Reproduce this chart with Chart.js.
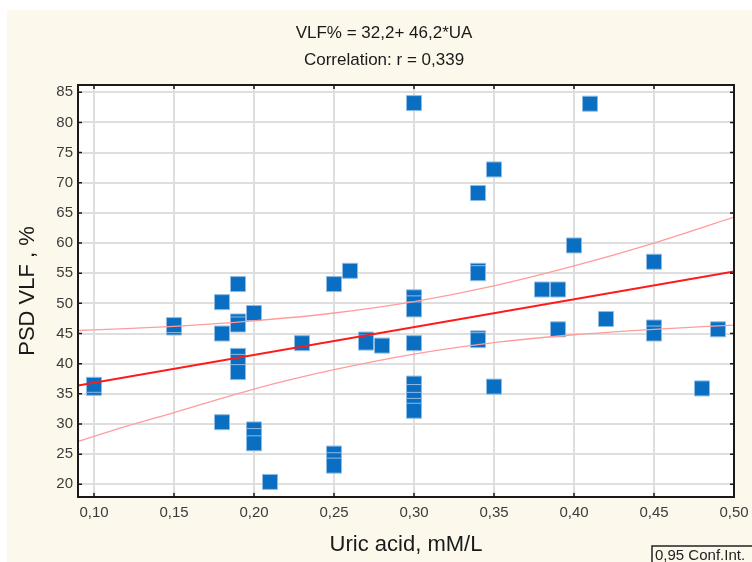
<!DOCTYPE html>
<html>
<head>
<meta charset="utf-8">
<script src="https://cdn.jsdelivr.net/npm/chart.js@4"></script>
<style>
  html, body { margin: 0; padding: 0; background: #ffffff; }
  #wrap { width: 752px; height: 562px; }
</style>
</head>
<body>
<div id="wrap"><canvas id="vlfChart" width="752" height="562"></canvas></div>
<script>
// uric acid (mM/L) vs PSD VLF (%)
const uricAcid = [
    0.10, 0.10,
    0.15, 0.15,
    0.18, 0.18, 0.18,
    0.19, 0.19, 0.19, 0.19, 0.19, 0.19,
    0.20, 0.20, 0.20, 0.20,
    0.21, 0.23,
    0.25, 0.25, 0.25, 0.25,
    0.26, 0.27, 0.27, 0.28,
    0.30, 0.30, 0.30, 0.30, 0.30, 0.30, 0.30, 0.30, 0.30, 0.30,
    0.34, 0.34, 0.34, 0.34, 0.34,
    0.35, 0.35,
    0.38, 0.39, 0.39,
    0.40, 0.41, 0.42,
    0.45, 0.45, 0.45,
    0.48, 0.49
];
const vlfPercent = [
    36.0, 36.5,
    46.0, 46.4,
    50.2, 45.0, 30.3,
    53.2, 47.0, 46.5, 41.3, 40.3, 38.6,
    48.4, 29.1, 28.0, 26.8,
    20.4, 43.4,
    53.2, 25.1, 24.0, 23.1,
    55.4, 44.0, 43.5, 43.0,
    83.2, 51.0, 50.0, 49.0, 43.4, 36.7, 35.3, 34.0, 33.0, 32.2,
    68.3, 55.4, 55.0, 44.2, 43.9,
    72.2, 36.2,
    52.3, 52.3, 45.7,
    59.6, 83.1, 47.4,
    56.9, 46.0, 45.0,
    35.9, 45.7
];

// fitted line VLF% = 32,2 + 46,2*UA, read at the plot edges
const fitX = [0.09, 0.50];
const fitY = [36.4, 55.3];

// 0,95 confidence band
const bandX = [0.09, 0.12, 0.15, 0.20, 0.25, 0.30, 0.35, 0.40, 0.45, 0.50];
const bandUpper = [45.5, 45.8, 46.2, 47.1, 48.4, 50.3, 52.9, 56.2, 60.0, 64.3];
const bandLower = [27.1, 29.6, 31.9, 35.8, 39.0, 41.6, 43.5, 44.8, 45.7, 46.4];

const xTicks = [0.10, 0.15, 0.20, 0.25, 0.30, 0.35, 0.40, 0.45, 0.50];
const yTicks = [20, 25, 30, 35, 40, 45, 50, 55, 60, 65, 70, 75, 80, 85];

const titleLines = ["VLF% = 32,2+ 46,2*UA", "Correlation: r = 0,339"];
const legendText = "0,95 Conf.Int.";

const FONT = "'Liberation Sans', Arial, sans-serif";
const toPoints = (xs, ys) => xs.map((x, i) => ({ x: x, y: ys[i] }));

const frame = {
    id: "frame",
    beforeDraw(chart) {
        const { ctx, chartArea: a } = chart;
        ctx.save();
        ctx.fillStyle = "#ffffff";
        ctx.fillRect(0, 0, chart.width, chart.height);
        ctx.fillStyle = "#fdf8ec";
        ctx.fillRect(7, 10, chart.width - 7, chart.height - 10);
        ctx.fillStyle = "#ffffff";
        ctx.fillRect(a.left, a.top, a.right - a.left, a.bottom - a.top);
        // two-line heading
        ctx.fillStyle = "#1a1a1a";
        ctx.font = "17px " + FONT;
        ctx.textAlign = "center";
        ctx.textBaseline = "middle";
        ctx.fillText(titleLines[0], 384, 33);
        ctx.fillText(titleLines[1], 384, 60);
        ctx.restore();
    },
    afterDraw(chart) {
        const { ctx, chartArea: a } = chart;
        const xs = chart.scales.x, ys = chart.scales.y;
        ctx.save();
        ctx.strokeStyle = "#1a1a1a";
        ctx.lineWidth = 2;
        ctx.strokeRect(a.left, a.top, a.right - a.left, a.bottom - a.top);
        // small inward ticks on the frame
        ctx.lineWidth = 1.5;
        ctx.beginPath();
        xTicks.forEach(v => {
            const px = xs.getPixelForValue(v);
            ctx.moveTo(px, a.top); ctx.lineTo(px, a.top + 4);
            ctx.moveTo(px, a.bottom); ctx.lineTo(px, a.bottom - 4);
        });
        yTicks.forEach(v => {
            const py = ys.getPixelForValue(v);
            ctx.moveTo(a.left, py); ctx.lineTo(a.left + 4, py);
            ctx.moveTo(a.right, py); ctx.lineTo(a.right - 4, py);
        });
        ctx.stroke();
        // legend box, bottom right
        ctx.lineWidth = 1.5;
        ctx.strokeStyle = "#222";
        ctx.strokeRect(652, 546, 110, 20);
        ctx.fillStyle = "#222";
        ctx.font = "15px " + FONT;
        ctx.textBaseline = "middle";
        ctx.fillText(legendText, 655, 556);
        ctx.restore();
    }
};

const ctx = document.getElementById("vlfChart").getContext("2d");
window.vlfChart = new Chart(ctx, {
    data: {
        datasets: [
            {
                type: "line",
                data: toPoints(fitX, fitY),
                borderColor: "#ff1a1a",
                borderWidth: 2,
                pointRadius: 0,
                order: 0
            },
            {
                type: "line",
                data: toPoints(bandX, bandUpper),
                borderColor: "#ff9c9c",
                borderWidth: 1.3,
                pointRadius: 0,
                cubicInterpolationMode: "monotone",
                order: 0
            },
            {
                type: "line",
                data: toPoints(bandX, bandLower),
                borderColor: "#ff9c9c",
                borderWidth: 1.3,
                pointRadius: 0,
                cubicInterpolationMode: "monotone",
                order: 0
            },
            {
                type: "scatter",
                data: toPoints(uricAcid, vlfPercent),
                backgroundColor: "#0a6fc2",
                borderColor: "#8fbbe3",
                borderWidth: 1,
                pointStyle: "rect",
                pointRadius: 10.6,
                pointHoverRadius: 10.6,
                order: 1
            }
        ]
    },
    options: {
        responsive: false,
        animation: false,
        events: [],
        layout: { padding: { left: 0, right: 18, top: 85, bottom: 0 } },
        plugins: {
            legend: { display: false },
            tooltip: { enabled: false },
            title: { display: false }
        },
        scales: {
            x: {
                type: "linear",
                min: 0.09,
                max: 0.50,
                afterBuildTicks: s => { s.ticks = xTicks.map(v => ({ value: v })); },
                afterFit: s => { s.height = 65; s.paddingLeft = 0; s.paddingRight = 0; },
                grid: { color: "#dedede", lineWidth: 2, drawTicks: false },
                border: { display: false },
                ticks: {
                    padding: 7,
                    color: "#3c3c3c",
                    font: { family: FONT, size: 15 },
                    maxRotation: 0,
                    callback: v => v.toFixed(2).replace(".", ",")
                },
                title: {
                    display: true,
                    text: "Uric acid, mM/L",
                    color: "#1a1a1a",
                    font: { family: FONT, size: 22 },
                    padding: { top: 0, bottom: 4 }
                }
            },
            y: {
                type: "linear",
                min: 17.9,
                max: 86.2,
                afterBuildTicks: s => { s.ticks = yTicks.map(v => ({ value: v })); },
                afterFit: s => { s.width = 78; s.paddingTop = 0; s.paddingBottom = 0; },
                grid: { color: "#dedede", lineWidth: 2, drawTicks: false },
                border: { display: false },
                ticks: {
                    padding: 5,
                    color: "#3c3c3c",
                    font: { family: FONT, size: 15 }
                },
                title: {
                    display: true,
                    text: "PSD VLF , %",
                    color: "#1a1a1a",
                    font: { family: FONT, size: 22 },
                    padding: { top: 15, bottom: 0 }
                }
            }
        }
    },
    plugins: [frame]
});
</script>
</body>
</html>
